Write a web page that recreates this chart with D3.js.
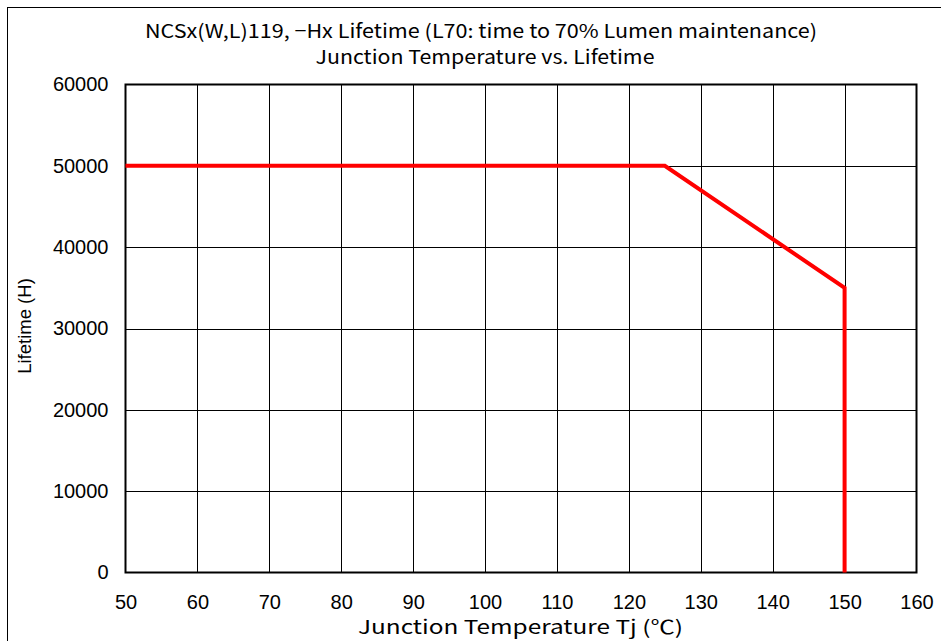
<!DOCTYPE html>
<html><head><meta charset="utf-8">
<script src="https://cdn.jsdelivr.net/npm/d3@7"></script>
<style>body{margin:0;background:#fff}svg{display:block}</style>
</head><body>
<svg id="c" width="941" height="641"></svg>
<script>
const titleLines = ["NCSx(W,L)119, \u2212Hx Lifetime (L70: time to 70% Lumen maintenance)", "Junction Temperature vs. Lifetime"];
const xTicks = [50,60,70,80,90,100,110,120,130,140,150,160];
const yTicks = [0,10000,20000,30000,40000,50000,60000];
const tempC = [50,125,150,150];
const lifetimeH = [50000,50000,35000,0];
const xLabel = "Junction Temperature Tj (\u2103)";
const yLabel = "Lifetime (H)";

const svg = d3.select("#c");
const x = d3.scaleLinear().domain([50,160]).range([125.5,916.5]);
const y = d3.scaleLinear().domain([0,60000]).range([572.5,84.5]);
const tickFont = "Liberation Sans, Arial, sans-serif";
const jpFont = "'Noto Sans CJK JP', sans-serif";

svg.append("rect").attr("x",7.5).attr("y",7.5).attr("width",1000).attr("height",1000)
  .attr("fill","none").attr("stroke","#000").attr("stroke-width",1);

// grid
svg.append("g").selectAll("line").data(xTicks.slice(1,-1)).join("line")
  .attr("x1",d=>Math.round(x(d))+0.5).attr("x2",d=>Math.round(x(d))+0.5)
  .attr("y1",y(60000)).attr("y2",y(0)).attr("stroke","#000").attr("stroke-width",1);
svg.append("g").selectAll("line").data(yTicks.slice(1,-1)).join("line")
  .attr("y1",d=>Math.round(y(d))+0.5).attr("y2",d=>Math.round(y(d))+0.5)
  .attr("x1",x(50)).attr("x2",x(160)).attr("stroke","#000").attr("stroke-width",1);

svg.append("rect").attr("x",x(50)).attr("y",y(60000)).attr("width",x(160)-x(50)).attr("height",y(0)-y(60000))
  .attr("fill","none").attr("stroke","#000").attr("stroke-width",2);

const xAxis = svg.append("g").attr("transform",`translate(0,${y(0)})`)
  .call(d3.axisBottom(x).tickValues(xTicks).tickSize(0).tickPadding(22).tickFormat(d3.format("d")));
xAxis.select(".domain").remove();
xAxis.selectAll("text").attr("font-family",tickFont).attr("font-size",20).attr("fill","#000");
const yAxis = svg.append("g").attr("transform",`translate(${x(50)},0)`)
  .call(d3.axisLeft(y).tickValues(yTicks).tickSize(0).tickPadding(17).tickFormat(d3.format("d")));
yAxis.select(".domain").remove();
yAxis.selectAll("text").attr("font-family",tickFont).attr("font-size",20).attr("fill","#000");

const line = d3.line().x((d,i)=>x(tempC[i])).y(d=>y(d));
svg.append("path").datum(lifetimeH).attr("d",line).attr("fill","none")
  .attr("stroke","#ff0000").attr("stroke-width",4).attr("stroke-linejoin","miter");

const titleLens = [672, 339];
svg.append("g").selectAll("text").data(titleLines).join("text")
  .attr("x",(d,i)=>i===0?481:485).attr("y",(d,i)=>38+i*26).attr("text-anchor","middle")
  .attr("font-family",jpFont).attr("font-size",19).attr("fill","#000")
  .attr("textLength",(d,i)=>titleLens[i]).attr("lengthAdjust","spacingAndGlyphs").text(d=>d);
svg.append("text").attr("x",520.5).attr("y",634).attr("text-anchor","middle")
  .attr("font-family",jpFont).attr("font-size",19).attr("fill","#000")
  .attr("textLength",325).attr("lengthAdjust","spacingAndGlyphs").text(xLabel);
svg.append("text").attr("transform","translate(31,326) rotate(-90)").attr("text-anchor","middle")
  .attr("font-family",tickFont).attr("font-size",18.5).attr("fill","#000").text(yLabel);
</script>
</body></html>
